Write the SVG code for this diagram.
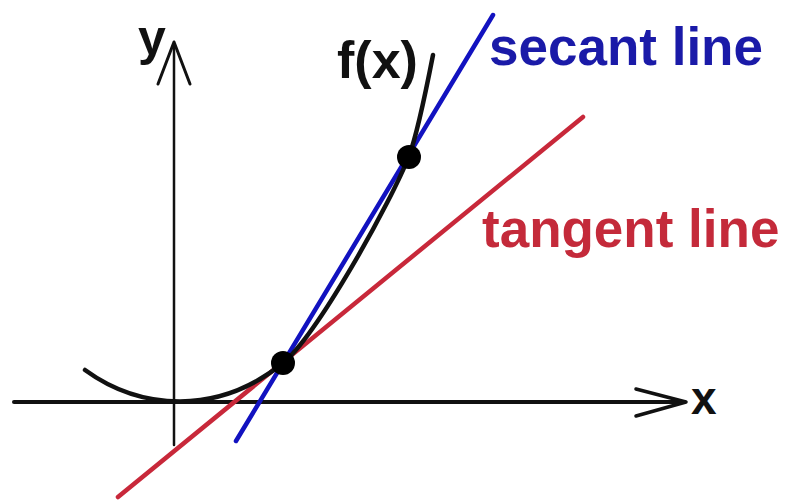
<svg xmlns="http://www.w3.org/2000/svg" width="790" height="501" viewBox="0 0 790 501">
  <style>
    .lbl { font-family: "Liberation Sans", Arial, sans-serif; font-weight: bold; }
    .axis { fill: none; stroke: #111; stroke-linecap: round; stroke-linejoin: round; }
  </style>
  <rect width="790" height="501" fill="#ffffff"/>
  <g id="axes">
    <line class="axis" x1="14" y1="402" x2="684" y2="402" stroke-width="4"/>
    <polyline class="axis" points="636,389 686,402 636,416" stroke-width="3.5"/>
    <line class="axis" x1="174" y1="445" x2="174" y2="44" stroke-width="2.5"/>
    <polyline class="axis" points="158,84 174,42 190,84" stroke-width="3"/>
    <text class="lbl" x="691" y="414" font-size="46" fill="#111">x</text>
    <text class="lbl" x="138" y="55" font-size="50" fill="#111">y</text>
  </g>
  <g id="lines">
    <line id="tangent" x1="118" y1="497" x2="583" y2="117" stroke="#c8283a" stroke-width="4.5" stroke-linecap="round"/>
    <line id="secant" x1="236" y1="441" x2="493" y2="15" stroke="#1212c0" stroke-width="4.5" stroke-linecap="round"/>
  </g>
  <g id="curve">
    <path d="M85,370 C140,410 218,416 283,363 C318,334 392,200 409,156 C417,135 425,96 433,55" fill="none" stroke="#111" stroke-width="4.5" stroke-linecap="round"/>
    <text class="lbl" x="337" y="78" font-size="52" fill="#111">f(x)</text>
  </g>
  <g id="points">
    <circle cx="283" cy="363" r="12" fill="#000"/>
    <circle cx="409" cy="157" r="12" fill="#000"/>
  </g>
  <g id="labels">
    <text class="lbl" x="489" y="65" font-size="53" fill="#1a1aa8">secant line</text>
    <text class="lbl" x="482" y="247" font-size="53" fill="#c42a3a">tangent line</text>
  </g>
</svg>
